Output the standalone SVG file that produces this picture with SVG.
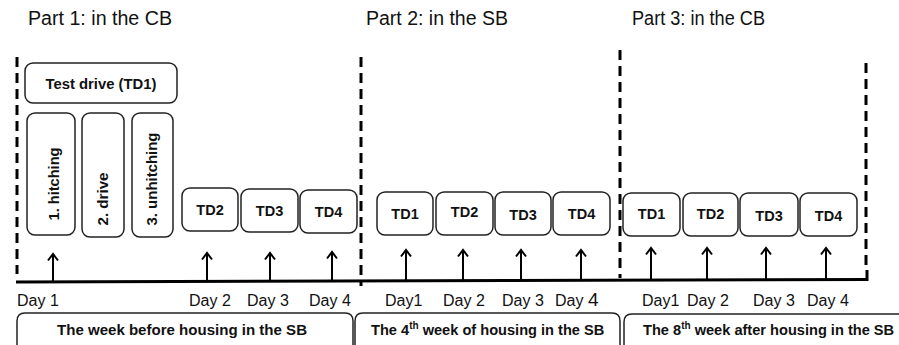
<svg xmlns="http://www.w3.org/2000/svg" width="899" height="345" viewBox="0 0 899 345">
<defs>
<style>
.box{fill:#fff;stroke:#222;stroke-width:1.5}
.dash{fill:none;stroke:#000;stroke-width:3;stroke-dasharray:10 6}
.arr{fill:none;stroke:#000;stroke-width:2;marker-end:url(#chev)}
.title{font-family:"Liberation Sans",Arial,sans-serif;font-size:19.5px;fill:#111}
.td{font-family:"Liberation Sans",Arial,sans-serif;font-size:14.5px;font-weight:bold;fill:#111;text-anchor:middle}
.day{font-family:"Liberation Sans",Arial,sans-serif;font-size:16px;fill:#111}
.wk{font-family:"Liberation Sans",Arial,sans-serif;font-size:15px;font-weight:bold;fill:#111;text-anchor:middle}
.wk2{font-family:"Liberation Sans",Arial,sans-serif;font-size:14.6px;font-weight:bold;fill:#111}
.brk{fill:#fff;stroke:#222;stroke-width:1.5}
</style>
<marker id="chev" viewBox="0 0 10 12" refX="8" refY="6" markerWidth="10" markerHeight="12" markerUnits="userSpaceOnUse" orient="auto">
<path d="M1.5,1 L8,6 L1.5,11" fill="none" stroke="#000" stroke-width="2"/>
</marker>
</defs>
<rect width="899" height="345" fill="#fff"/>

<g id="titles">
<text class="title" x="28" y="25" textLength="144" lengthAdjust="spacingAndGlyphs">Part 1: in the CB</text>
<text class="title" x="366" y="25" textLength="142" lengthAdjust="spacingAndGlyphs">Part 2: in the SB</text>
<text class="title" x="632" y="25" textLength="133" lengthAdjust="spacingAndGlyphs">Part 3: in the CB</text>
</g>

<g id="connectors">
<line class="dash" x1="17" y1="57" x2="17" y2="274"/>
<line class="dash" x1="361" y1="57" x2="361" y2="286"/>
<line class="dash" x1="620" y1="50" x2="620" y2="278"/>
<line class="dash" x1="866" y1="63" x2="866" y2="270"/>
<line x1="867" y1="270" x2="867" y2="281" stroke="#000" stroke-width="3"/>
<line x1="16" y1="282" x2="868" y2="279.5" stroke="#000" stroke-width="3"/>
<line class="arr" x1="53" y1="281" x2="53" y2="254"/>
<line class="arr" x1="207" y1="281" x2="207" y2="253"/>
<line class="arr" x1="270" y1="281" x2="270" y2="253"/>
<line class="arr" x1="332" y1="281" x2="332" y2="252"/>
<line class="arr" x1="406" y1="280" x2="406" y2="250"/>
<line class="arr" x1="463" y1="280" x2="463" y2="250"/>
<line class="arr" x1="521" y1="280" x2="521" y2="250"/>
<line class="arr" x1="581" y1="280" x2="581" y2="250"/>
<line class="arr" x1="651" y1="280" x2="651" y2="248"/>
<line class="arr" x1="707" y1="280" x2="707" y2="248"/>
<line class="arr" x1="766" y1="280" x2="766" y2="248"/>
<line class="arr" x1="826" y1="280" x2="826" y2="248"/>
</g>

<g id="td1-part1">
<rect class="box" x="25" y="63" width="152" height="40" rx="8"/>
<text class="td" x="101" y="89" textLength="111" lengthAdjust="spacingAndGlyphs">Test drive (TD1)</text>
</g>
<g id="hitching">
<rect class="box" x="27" y="113" width="48" height="122" rx="8"/>
<text class="td" transform="translate(59,184) rotate(-90)" textLength="73" lengthAdjust="spacingAndGlyphs">1. hitching</text>
</g>
<g id="drive">
<rect class="box" x="82" y="113" width="42" height="124" rx="8"/>
<text class="td" transform="translate(108,199) rotate(-90)" textLength="53" lengthAdjust="spacingAndGlyphs">2. drive</text>
</g>
<g id="unhitching">
<rect class="box" x="132" y="113" width="41" height="124" rx="8"/>
<text class="td" transform="translate(157,179) rotate(-90)" textLength="93" lengthAdjust="spacingAndGlyphs">3. unhitching</text>
</g>

<g id="p1-td2"><rect class="box" x="182" y="188" width="56" height="43" rx="8"/><text class="td" x="210" y="215">TD2</text></g>
<g id="p1-td3"><rect class="box" x="241" y="189" width="57" height="43" rx="8"/><text class="td" x="269.5" y="216">TD3</text></g>
<g id="p1-td4"><rect class="box" x="300" y="190" width="57" height="43" rx="8"/><text class="td" x="328.5" y="217">TD4</text></g>

<g id="p2-td1"><rect class="box" x="377" y="192" width="56" height="43" rx="8"/><text class="td" x="405" y="219">TD1</text></g>
<g id="p2-td2"><rect class="box" x="436" y="192" width="57" height="43" rx="8"/><text class="td" x="464.5" y="217">TD2</text></g>
<g id="p2-td3"><rect class="box" x="495" y="192" width="56" height="43" rx="8"/><text class="td" x="523" y="220">TD3</text></g>
<g id="p2-td4"><rect class="box" x="553" y="192" width="57" height="43" rx="8"/><text class="td" x="581.5" y="219">TD4</text></g>

<g id="p3-td1"><rect class="box" x="623" y="193" width="57" height="43" rx="8"/><text class="td" x="651.5" y="219">TD1</text></g>
<g id="p3-td2"><rect class="box" x="683" y="193" width="55" height="43" rx="8"/><text class="td" x="710.5" y="219">TD2</text></g>
<g id="p3-td3"><rect class="box" x="740" y="193" width="58" height="43" rx="8"/><text class="td" x="769" y="221">TD3</text></g>
<g id="p3-td4"><rect class="box" x="800" y="193" width="57" height="43" rx="8"/><text class="td" x="828.5" y="221">TD4</text></g>

<g id="days">
<text class="day" x="17" y="306">Day 1</text>
<text class="day" x="189" y="306">Day 2</text>
<text class="day" x="247" y="306">Day 3</text>
<text class="day" x="309" y="306">Day 4</text>
<text class="day" x="385" y="306">Day1</text>
<text class="day" x="443" y="306">Day 2</text>
<text class="day" x="502" y="306">Day 3</text>
<text class="day" x="555" y="306">Day <tspan font-size="19">4</tspan></text>
<text class="day" x="642" y="306">Day1</text>
<text class="day" x="687" y="306">Day 2</text>
<text class="day" x="753" y="306">Day 3</text>
<text class="day" x="807" y="306">Day 4</text>
</g>

<g id="week1">
<path class="brk" d="M17,346 L17,321 Q17,313 25,313 L345,313 Q353,313 353,321 L353,346"/>
<text class="wk" x="182" y="335" textLength="250" lengthAdjust="spacingAndGlyphs">The week before housing in the SB</text>
</g>
<g id="week2">
<path class="brk" d="M355,346 L355,321 Q355,313 363,313 L612,313 Q620,313 620,321 L620,346"/>
<text class="wk2" x="371" y="335">The 4<tspan font-size="10" dy="-6">th</tspan><tspan dy="6"> week of housing in the SB</tspan></text>
</g>
<g id="week3">
<path class="brk" d="M624,346 L624,322 Q624,314 632,314 L910,314"/>
<text class="wk2" x="643" y="335">The 8<tspan font-size="10" dy="-6">th</tspan><tspan dy="6"> week after housing in the SB</tspan></text>
</g>
</svg>
